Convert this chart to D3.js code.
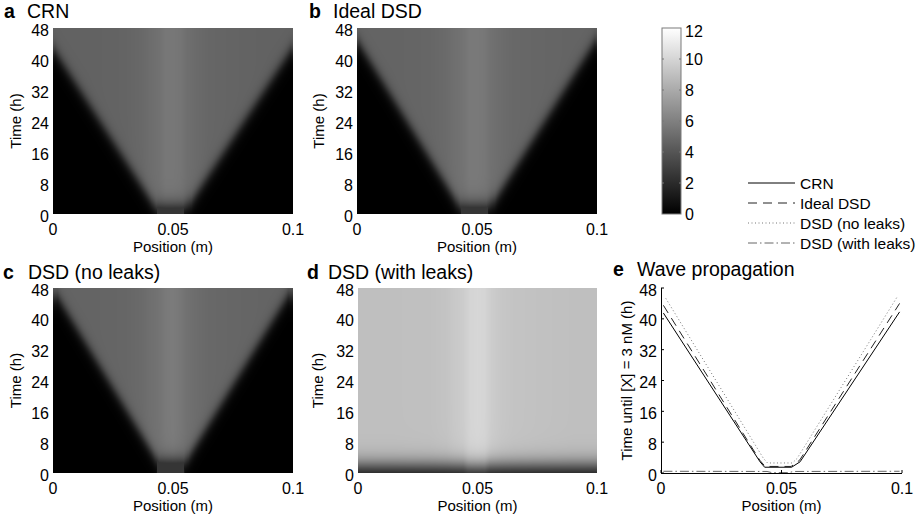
<!DOCTYPE html>
<html><head><meta charset="utf-8">
<script src="https://cdn.jsdelivr.net/npm/d3@7"></script>
<style>
body{margin:0;background:#fff}
svg{display:block}
text{font-family:"Liberation Sans",Arial,Helvetica,sans-serif;fill:#000}
</style>
</head><body>
<svg id="fig" width="917" height="519"></svg>
<script>
// ---------------- data ----------------
const positionTicks = [0, 0.05, 0.1];
const positionTickLabels = ["0", "0.05", "0.1"];
const timeTicks = [0, 8, 16, 24, 32, 40, 48];
const colorbarTicks = [0, 2, 4, 6, 8, 10, 12];
const seriesNames = ["CRN", "Ideal DSD", "DSD (no leaks)", "DSD (with leaks)"];

// time until [X] = 3 nM (h) vs position (m)
const crnX     = [0.001, 0.0411, 0.0430, 0.0542, 0.0577, 0.099];
const crnT     = [41.5, 2.9, 1.5, 1.5, 2.9, 41.8];
const idealX   = [0.001, 0.0410, 0.0432, 0.0540, 0.0575, 0.099];
const idealT   = [43.5, 3.3, 1.7, 1.7, 3.3, 44.0];
const noLeakX  = [0.002, 0.0425, 0.0442, 0.0545, 0.0565, 0.098];
const noLeakT  = [45.3, 3.8, 2.6, 2.6, 3.8, 45.7];
const leakX    = [0.001, 0.0440, 0.0460, 0.0530, 0.0550, 0.099];
const leakT    = [0.45, 0.40, 0.10, 0.10, 0.40, 0.45];

// steady [X] level (nM) behind the wave front, per position
const plateauX      = [0, 0.015, 0.03, 0.037, 0.04, 0.044, 0.047, 0.05, 0.053, 0.056, 0.06, 0.065, 0.075, 0.09, 0.1];
const plateauCRN    = [4.6, 4.6, 4.7, 4.9, 5.1, 5.3, 5.6, 5.6, 5.5, 5.2, 5.0, 4.8, 4.7, 4.6, 4.6];
const plateauIdeal  = [4.7, 4.7, 4.8, 5.0, 5.2, 5.4, 5.7, 5.7, 5.6, 5.3, 5.1, 4.9, 4.8, 4.7, 4.7];
const plateauNoLeak = [4.7, 4.7, 4.8, 5.0, 5.2, 5.4, 5.7, 5.8, 5.6, 5.3, 5.1, 4.9, 4.8, 4.7, 4.7];
const plateauLeak   = [9.0, 9.0, 9.05, 9.2, 9.4, 9.6, 10.0, 10.1, 10.0, 9.6, 9.35, 9.2, 9.1, 9.0, 9.0];

// initial seed of [X] (nM) at t = 0
const seedX = [0, 0.043, 0.0435, 0.0545, 0.055, 0.1];
const seedV = [0, 0, 2.5, 2.5, 0, 0];

// ---------------- drawing ----------------
const svg = d3.select("#fig");
const FONT_TICK = 16, FONT_LABEL = 15, FONT_TITLE = 19.5, FONT_LEGEND = 15.5;

const heatPanels = [
  {letter: "a", title: "CRN",              x0: 53,  x1: 293, y0: 28,  y1: 214, ax: crnX,    at: crnT,    pv: plateauCRN,    seed: true,  w: 1.3, off: 0.3, tx: 4,   ttx: 27,  tb: 18,  ylx: 15},
  {letter: "b", title: "Ideal DSD",        x0: 357, x1: 597, y0: 28,  y1: 214, ax: idealX,  at: idealT,  pv: plateauIdeal,  seed: true,  w: 1.3, off: 0.3, tx: 309, ttx: 333, tb: 18,  ylx: 318},
  {letter: "c", title: "DSD (no leaks)",   x0: 53,  x1: 293, y0: 288, y1: 473, ax: noLeakX, at: noLeakT, pv: plateauNoLeak, seed: true,  w: 1.3, off: 0.3, tx: 3,   ttx: 28,  tb: 279, ylx: 15},
  {letter: "d", title: "DSD (with leaks)", x0: 358, x1: 597, y0: 288, y1: 473, ax: leakX,   at: leakT,   pv: plateauLeak,   seed: false, w: 1.5, off: 1.3, tx: 307, ttx: 328, tb: 279, ylx: 317}
];

const gray = d3.scaleLinear().domain([0, 12]).range([0, 255]).clamp(true);

function title(letter, text, tx, ttx, tb) {
  svg.append("text").attr("x", tx).attr("y", tb).attr("font-size", FONT_TITLE).attr("font-weight", "bold").text(letter);
  svg.append("text").attr("x", ttx).attr("y", tb).attr("font-size", FONT_TITLE).text(text);
}

function tickLabels(x, y, p, ylx, ylabel) {
  svg.append("g").selectAll("text").data(timeTicks).join("text")
    .attr("x", p.x0 - 4).attr("y", d => y(d) + 2).attr("text-anchor", "end")
    .attr("dominant-baseline", "central").attr("font-size", FONT_TICK).text(d => d);
  svg.append("g").selectAll("text").data(positionTicks).join("text")
    .attr("x", d => x(d)).attr("y", p.y1 + 21).attr("text-anchor", "middle")
    .attr("font-size", FONT_TICK).text((d, i) => positionTickLabels[i]);
  svg.append("text").attr("x", (p.x0 + p.x1) / 2).attr("y", p.y1 + 38)
    .attr("text-anchor", "middle").attr("font-size", FONT_LABEL).text("Position (m)");
  svg.append("text").attr("transform", `translate(${ylx},${(p.y0 + p.y1) / 2}) rotate(-90)`)
    .attr("text-anchor", "middle").attr("dominant-baseline", "central")
    .attr("font-size", FONT_LABEL).text(ylabel);
}

heatPanels.forEach(p => {
  const x = d3.scaleLinear().domain([0, 0.1]).range([p.x0, p.x1]);
  const y = d3.scaleLinear().domain([0, 48]).range([p.y1, p.y0]);
  const arrival = d3.scaleLinear().domain(p.ax).range(p.at).clamp(true);
  const plateau = d3.scaleLinear().domain(plateauX).range(p.pv).clamp(true);
  const seed = d3.scaleLinear().domain(seedX).range(p.seed ? seedV : seedV.map(() => 0)).clamp(true);
  const W = Math.round(p.x1 - p.x0), H = Math.round(p.y1 - p.y0);
  const cv = document.createElement("canvas");
  cv.width = W; cv.height = H;
  const ctx = cv.getContext("2d");
  const img = ctx.createImageData(W, H);
  for (let i = 0; i < W; i++) {
    const xv = x.invert(p.x0 + i + 0.5);
    const T = arrival(xv), P = plateau(xv), S = seed(xv);
    for (let j = 0; j < H; j++) {
      const tv = y.invert(p.y0 + j + 0.5);
      const v = Math.max(S, P / (1 + Math.exp(-(tv - T - p.off) / p.w)));
      const g = Math.round(gray(v));
      const k = (j * W + i) * 4;
      img.data[k] = g; img.data[k + 1] = g; img.data[k + 2] = g; img.data[k + 3] = 255;
    }
  }
  ctx.putImageData(img, 0, 0);
  svg.append("image").attr("x", p.x0).attr("y", p.y0).attr("width", W).attr("height", H)
    .attr("preserveAspectRatio", "none").attr("href", cv.toDataURL());
  title(p.letter, p.title, p.tx, p.ttx, p.tb);
  tickLabels(x, y, p, p.ylx, "Time (h)");
});

// ---------------- colorbar ----------------
{
  const cb = {x0: 662, x1: 681, y0: 28, y1: 214};
  const cy = d3.scaleLinear().domain([0, 12]).range([cb.y1, cb.y0]);
  const grad = svg.append("defs").append("linearGradient").attr("id", "cbg")
    .attr("x1", 0).attr("y1", 1).attr("x2", 0).attr("y2", 0);
  grad.selectAll("stop").data(colorbarTicks).join("stop")
    .attr("offset", d => d / 12)
    .attr("stop-color", d => { const g = Math.round(gray(d)); return `rgb(${g},${g},${g})`; });
  svg.append("rect").attr("x", cb.x0).attr("y", cb.y0).attr("width", cb.x1 - cb.x0).attr("height", cb.y1 - cb.y0)
    .attr("fill", "url(#cbg)").attr("stroke", "#7a7a7a").attr("stroke-width", 1);
  const tk = svg.append("g").attr("stroke", "#777").attr("stroke-width", 1);
  colorbarTicks.slice(1, -1).forEach(d => {
    tk.append("line").attr("x1", cb.x0).attr("x2", cb.x0 + 2).attr("y1", cy(d)).attr("y2", cy(d));
    tk.append("line").attr("x1", cb.x1 - 2).attr("x2", cb.x1).attr("y1", cy(d)).attr("y2", cy(d));
  });
  svg.append("g").selectAll("text").data(colorbarTicks).join("text")
    .attr("x", cb.x1 + 4).attr("y", d => cy(d) + (d === 12 ? 3 : 0)).attr("dominant-baseline", "central")
    .attr("font-size", FONT_TICK).text(d => d);
}

// ---------------- panel e ----------------
const styles = [
  {color: "#000", dash: null,          width: 1},
  {color: "#222", dash: "9,6",         width: 1},
  {color: "#777", dash: "1,2.5",       width: 1},
  {color: "#666", dash: "9,3,1.5,3",   width: 1}
];
const lineSeries = [
  crnX.map((d, i) => [d, crnT[i]]),
  idealX.map((d, i) => [d, idealT[i]]),
  noLeakX.map((d, i) => [d, noLeakT[i]]),
  leakX.map((d, i) => [d, leakT[i]])
];
{
  const p = {x0: 661, x1: 902, y0: 288, y1: 473};
  const x = d3.scaleLinear().domain([0, 0.1]).range([p.x0, p.x1]);
  const y = d3.scaleLinear().domain([0, 48]).range([p.y1, p.y0]);
  const line = d3.line().x(d => x(d[0])).y(d => y(d[1]));
  svg.append("g").selectAll("path").data(lineSeries).join("path")
    .attr("d", line).attr("fill", "none")
    .attr("stroke", (d, i) => styles[i].color)
    .attr("stroke-width", (d, i) => styles[i].width)
    .attr("stroke-dasharray", (d, i) => styles[i].dash);
  const ax = svg.append("g").attr("stroke", "#000").attr("stroke-width", 1);
  ax.append("line").attr("x1", p.x0).attr("x2", p.x1).attr("y1", p.y1 + 0.5).attr("y2", p.y1 + 0.5);
  ax.append("line").attr("x1", p.x0 + 0.5).attr("x2", p.x0 + 0.5).attr("y1", p.y0).attr("y2", p.y1);
  positionTicks.forEach(d => ax.append("line").attr("x1", x(d)).attr("x2", x(d)).attr("y1", p.y1).attr("y2", p.y1 - 3));
  timeTicks.forEach(d => ax.append("line").attr("x1", p.x0).attr("x2", p.x0 + 3).attr("y1", y(d)).attr("y2", y(d)));
  title("e", "Wave propagation", 613, 637, 276);
  tickLabels(x, y, p, 626, "Time until [X] = 3 nM (h)");

  // legend
  const lg = svg.append("g");
  const ly = [183, 203, 223, 243];
  seriesNames.forEach((n, i) => {
    lg.append("line").attr("x1", 748).attr("x2", 795).attr("y1", ly[i]).attr("y2", ly[i])
      .attr("stroke", styles[i].color).attr("stroke-width", 1).attr("stroke-dasharray", styles[i].dash);
    lg.append("text").attr("x", 800).attr("y", ly[i]).attr("dominant-baseline", "central")
      .attr("font-size", FONT_LEGEND).text(n);
  });
}
</script>
</body></html>
